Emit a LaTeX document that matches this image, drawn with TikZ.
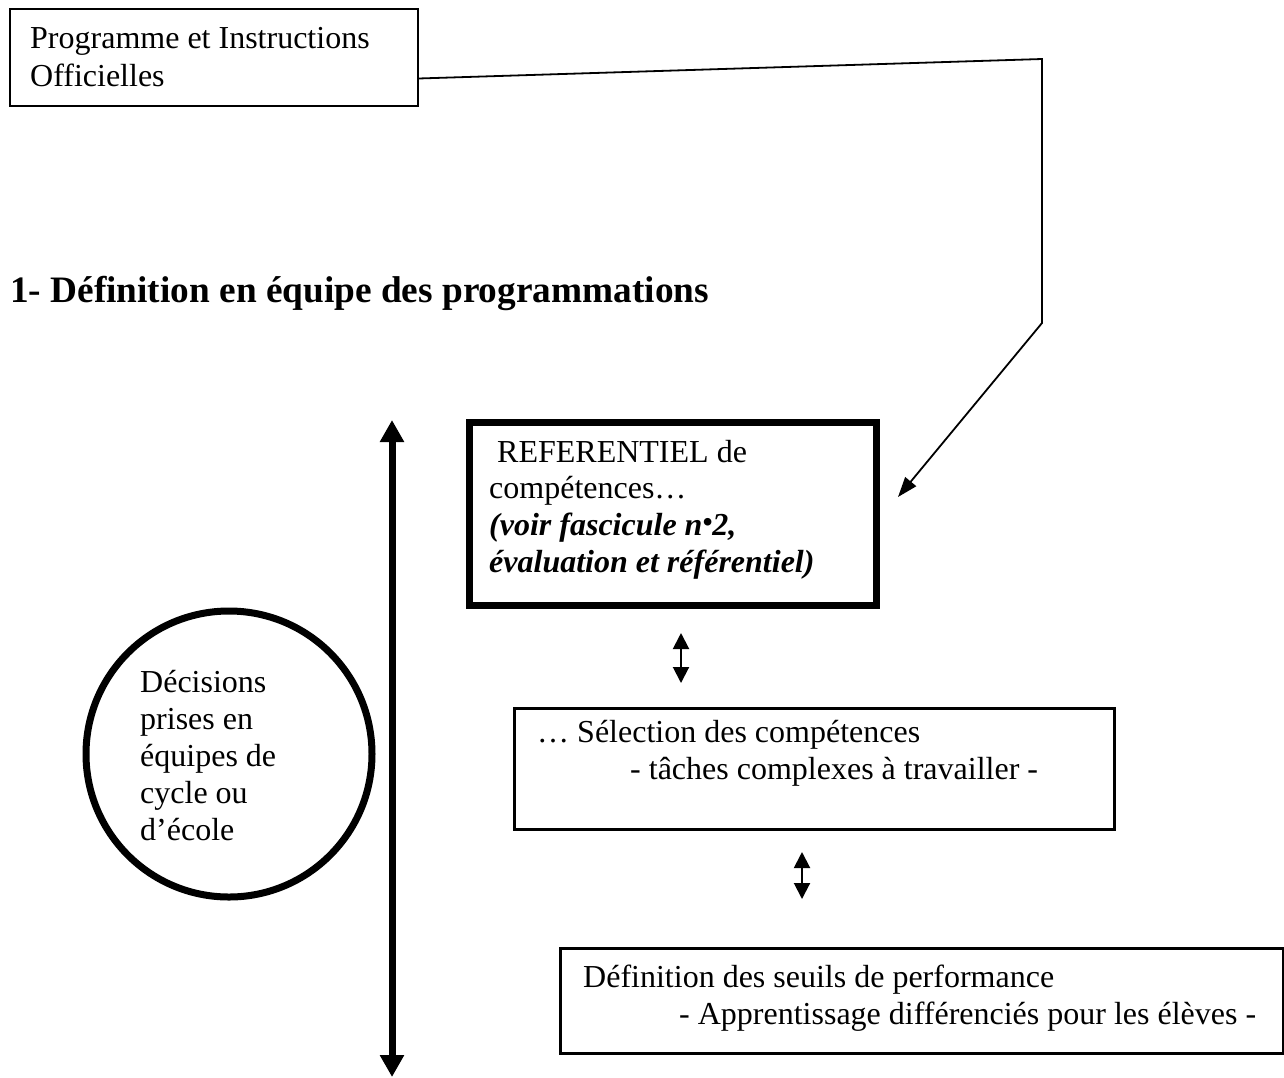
\documentclass[tikz,border=0pt]{standalone}
\usepackage{fontspec}
\setmainfont{Liberation Serif}
\usetikzlibrary{arrows.meta,calc}
\begin{document}
\begin{tikzpicture}[x=1pt,y=-1pt,
  txt/.style={anchor=base west,inner sep=0pt,font=\fontsize{32}{36.8}\selectfont},
  thinbox/.style={draw,line width=1.5pt,anchor=north west,inner sep=0pt},
  midbox/.style={draw,line width=3pt,anchor=north west,inner sep=0pt},
  thickbox/.style={draw,line width=7pt,anchor=north west,inner sep=0pt},
  conn/.style={line width=1.8pt,-{Triangle[width=14pt,length=20pt]}},
  bigarrow/.style={line width=7pt,{Triangle[width=23pt,length=22pt]}-{Triangle[width=23pt,length=22pt]}},
  smallarrow/.style={line width=2pt,{Triangle[width=16pt,length=16pt]}-{Triangle[width=16pt,length=16pt]}}]
\useasboundingbox (0,0) rectangle (1284,1077);

% top box
\node[thinbox,minimum width=408pt,minimum height=97pt] (prog) at (9,8) {};
\node[txt] (progA) at (30,48) {Programme et Instructions};
\node[txt] (progB) at (30,86) {Officielles};

% heading
\node[anchor=base west,inner sep=0pt,font=\bfseries\fontsize{37.3}{43}\selectfont] (head) at (10,302) {1- Définition en équipe des programmations};

% referentiel box
\node[thickbox,minimum width=407pt,minimum height=183pt] (ref) at (466,419) {};
\node[txt] (refA) at (497,462) {REFERENTIEL de};
\node[txt] (refB) at (489,498) {compétences…};
\node[txt,font=\bfseries\itshape\fontsize{32}{36.8}\selectfont] (refC) at (489,535) {(voir fascicule n\raisebox{0.1em}{\fontsize{28}{28}\selectfont •}2,};
\node[txt,font=\bfseries\itshape\fontsize{32}{36.8}\selectfont] (refD) at (489,572) {évaluation et référentiel)};

% connector
\coordinate (bendA) at (1042,59);
\coordinate (bendB) at (1042,323);
\coordinate (tipA) at (898,497);
\draw[conn] ($(prog.south east)+(0,-28)$) -- (bendA) -- (bendB) -- (tipA);

% big vertical arrow
\coordinate (vtop) at (392,420);
\coordinate (vbot) at (392,1077);
\draw[bigarrow] (vtop) -- (vbot);

% circle
\node[circle,draw,line width=7pt,minimum size=286pt,inner sep=0pt] (dec) at (229,754) {};
\node[txt] (decA) at (140,692) {Décisions};
\node[txt] (decB) at (140,729) {prises en};
\node[txt] (decC) at (140,766) {équipes de};
\node[txt] (decD) at (140,803) {cycle ou};
\node[txt] (decE) at (140,840) {d’école};

% selection box
\node[midbox,minimum width=600pt,minimum height=121pt] (sel) at (513,707) {};
\node[txt] (selA) at (537,742) {… Sélection des compétences};
\node[txt] (selB) at (630,779) {- tâches complexes à travailler -};

\coordinate (aAt) at (681,633);
\coordinate (aAb) at (681,683);
\draw[smallarrow] (aAt) -- (aAb);

% definition box
\node[midbox,minimum width=723pt,minimum height=105pt] (def) at (559,947) {};
\node[txt] (defA) at (583,987) {Définition des seuils de performance};
\node[txt] (defB) at (679,1024) {- Apprentissage différenciés pour les élèves -};

\coordinate (aBt) at (802,852);
\coordinate (aBb) at (802,899);
\draw[smallarrow] (aBt) -- (aBb);
\end{tikzpicture}
\end{document}
